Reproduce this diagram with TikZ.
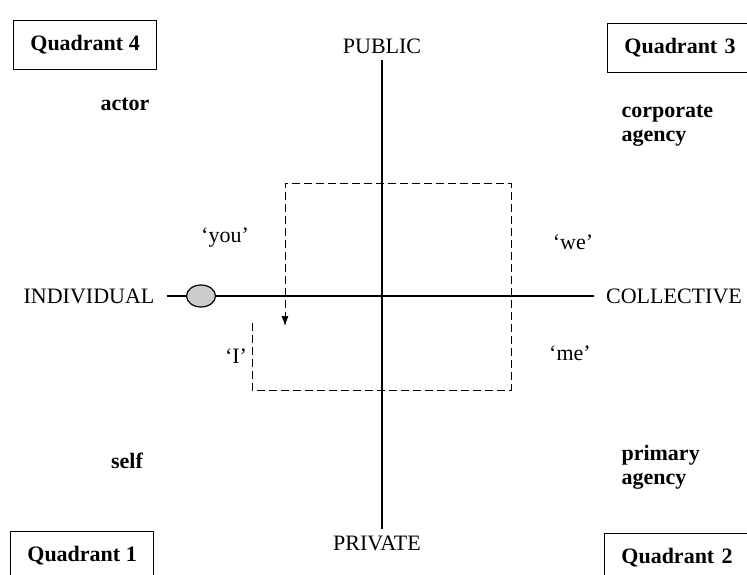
\documentclass[tikz,border=0pt]{standalone}
\usepackage{fontspec}
\setmainfont{Liberation Serif}
\usetikzlibrary{shapes.geometric, arrows.meta}

\newcommand{\figfont}{\fontsize{22}{24}\selectfont}

\tikzset{
  quadbox/.style={draw, thick, font=\figfont\bfseries, anchor=west, inner xsep=17pt, minimum height=49pt},
  cutbox/.style={quadbox, text width=126pt, align=left},
  axislabel/.style={inner xsep=12pt, inner ysep=6pt},
  agency/.style={font=\figfont\bfseries, align=left},
  pronoun/.style={inner sep=2pt}
}

\begin{document}
\begin{tikzpicture}[x=1pt, y=-1pt, font=\figfont]
    \clip (0, 0) rectangle (747, 575);

    % Draw the quadrant boxes
    \node[quadbox] (q4) at (13, 44.5) {Quadrant 4};
    \node[cutbox] (q3) at (607, 47.5) {Quadrant 3};
    \node[quadbox] (q1) at (10, 555.5) {Quadrant 1};
    \node[cutbox] (q2) at (604, 557.5) {Quadrant 2};

    % Labels of the axes
    \node[axislabel] (public) at (382, 46) {PUBLIC};
    \node[axislabel] (private) at (377, 543) {PRIVATE};
    \node[axislabel] (individual) at (89, 296) {INDIVIDUAL};
    \node[axislabel] (collective) at (674, 296) {COLLECTIVE};

    % Labels in the corners
    \node[agency] (actor) at (125, 104) {actor};
    \node[agency, anchor=west] (corporate) at (618, 126) {corporate\\agency};
    \node[agency] (self) at (127, 461) {self};
    \node[agency, anchor=west] (primary) at (618, 467) {primary\\agency};

    % Pronouns
    \node[pronoun] (you) at (225, 238) {`you'};
    \node[pronoun] (we) at (573, 242) {`we'};
    \node[pronoun] (me) at (570, 353) {`me'};
    \node[pronoun] (i) at (236, 356) {`I'};

    % The dot on the axis
    \node[draw, ellipse, line width=1.2pt, fill=gray!40, minimum width=29pt, minimum height=22pt, inner sep=0pt] (dot) at (201, 296) {};

    % Draw the axes
    \draw[line width=1.1pt] (public.south) -- (public.south |- private.north);
    \draw[line width=1.1pt] (individual.east) -- (dot.west);
    \draw[line width=1.1pt] (dot.east) -- (collective.west);

    % Dashed path round the centre
    \coordinate (start) at (252, 323);
    \coordinate (bl) at (252, 390);
    \coordinate (br) at (511, 390);
    \coordinate (tr) at (511, 183);
    \coordinate (tl) at (285, 183);
    \coordinate (stop) at (285, 326);
    \draw[-{Latex[length=10pt, width=7pt]}, thick, dash pattern=on 8pt off 4pt] (start) -- (bl) -- (br) -- (tr) -- (tl) -- (stop);
\end{tikzpicture}
\end{document}
